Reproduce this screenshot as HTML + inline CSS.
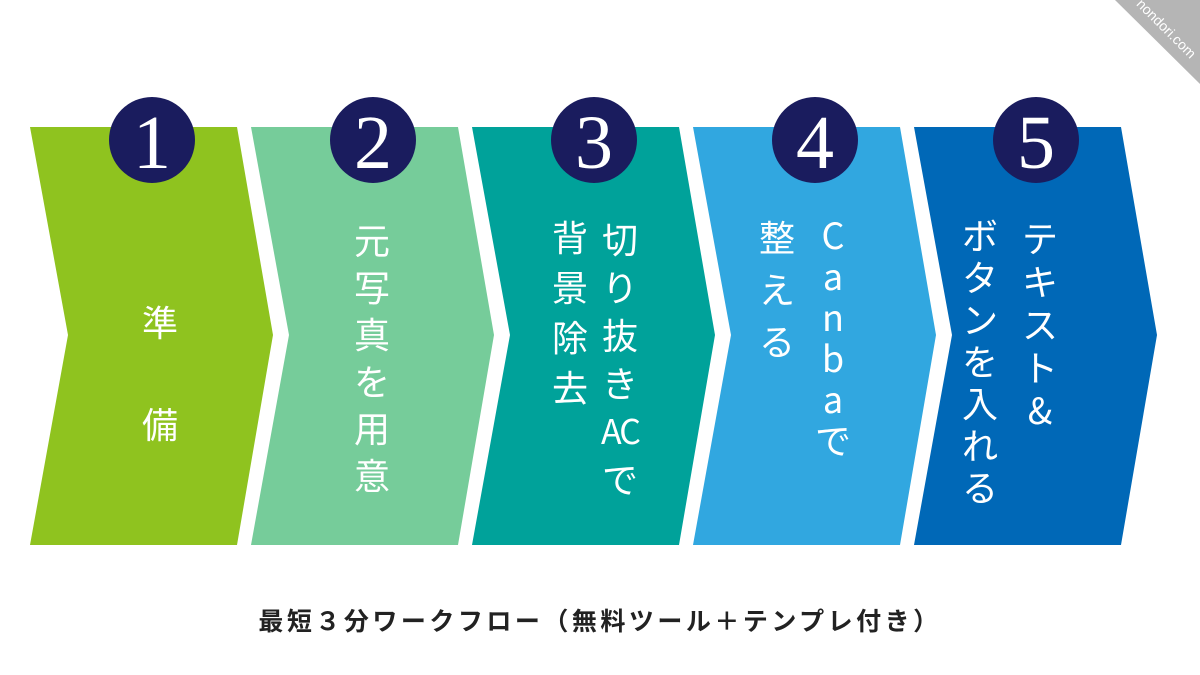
<!DOCTYPE html>
<html><head><meta charset="utf-8"><style>
body{margin:0;width:1200px;height:675px;background:#fff;position:relative;overflow:hidden;font-family:"Liberation Sans","Noto Sans CJK JP",sans-serif}
.c{position:absolute;width:50px;text-align:center;color:#fff;font-size:36px;font-family:"Noto Sans CJK JP","Liberation Sans",sans-serif}
.c span{display:block}
.n{position:absolute;width:86px;height:86px;border-radius:50%;background:#1a1c5e;color:#fff;font-family:"Liberation Serif",serif;font-size:76px;text-align:center;line-height:92px}
</style></head><body>
<svg width="1200" height="675" style="position:absolute;left:0;top:0">
<polygon points="30,127 237,127 273,335 237,545 30,545 68,335" fill="#8fc31f"/>
<polygon points="251,127 458,127 494,335 458,545 251,545 289,335" fill="#76cc9a"/>
<polygon points="472,127 679,127 715,335 679,545 472,545 510,335" fill="#00a29a"/>
<polygon points="693,127 900,127 936,335 900,545 693,545 731,335" fill="#31a7e0"/>
<polygon points="914,127 1121,127 1157,335 1121,545 914,545 952,335" fill="#0068b7"/>
<polygon points="1115,0 1200,0 1200,84" fill="#b5b5b5"/>
<text x="1163" y="32" transform="rotate(45 1163 32)" fill="#fff" font-size="14" font-family="Liberation Sans" text-anchor="middle">nondori.com</text>
</svg>
<div class="n" style="left:109px;top:97px">1</div>
<div class="n" style="left:330px;top:97px">2</div>
<div class="n" style="left:551px;top:97px">3</div>
<div class="n" style="left:772px;top:97px">4</div>
<div class="n" style="left:993px;top:97px">5</div>

<div class="c" style="left:135px;top:270px;line-height:102px"><span>準</span><span>備</span></div>
<div class="c" style="left:347px;top:216px;line-height:47px"><span>元</span><span>写</span><span>真</span><span>を</span><span>用</span><span>意</span></div>
<div class="c" style="left:545px;top:211px;line-height:50px"><span>背</span><span>景</span><span>除</span><span>去</span></div>
<div class="c" style="left:595px;top:214px;line-height:48px"><span>切</span><span>り</span><span>抜</span><span>き</span><span style="font-size:34px;letter-spacing:-2px">AC</span><span>で</span></div>
<div class="c" style="left:752px;top:210px;line-height:52px"><span>整</span><span>え</span><span>る</span></div>
<div class="c" style="left:808px;top:214px;line-height:41px"><span>C</span><span>a</span><span>n</span><span>b</span><span>a</span><span>で</span></div>
<div class="c" style="left:955px;top:213px;line-height:42px"><span>ボ</span><span>タ</span><span>ン</span><span>を</span><span>入</span><span>れ</span><span>る</span></div>
<div class="c" style="left:1015px;top:216px;line-height:43px"><span>テ</span><span>キ</span><span>ス</span><span>ト</span><span>&amp;</span></div>

<div style="position:absolute;left:0;width:1200px;top:602px;text-align:center;font-size:25px;font-weight:bold;color:#222;letter-spacing:3.5px;font-family:'Noto Sans CJK JP',sans-serif">最短３分ワークフロー（無料ツール＋テンプレ付き）</div>
</body></html>
